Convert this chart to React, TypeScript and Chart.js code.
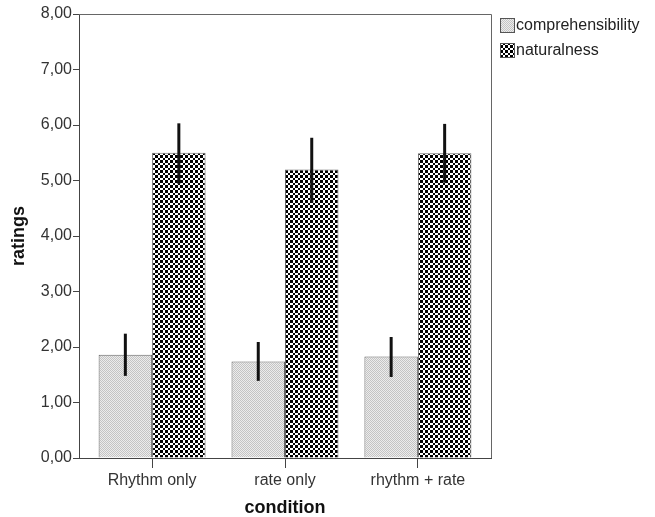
import React, { useEffect, useRef } from 'react';
import { Chart, registerables } from 'chart.js';

Chart.register(...registerables);

const categories = ['Rhythm only', 'rate only', 'rhythm + rate'];
const seriesNames = ['comprehensibility', 'naturalness'];
const comprehensibility = [1.86, 1.74, 1.83];
const comprehensibilityLow = [1.48, 1.39, 1.46];
const comprehensibilityHigh = [2.24, 2.09, 2.18];
const naturalness = [5.5, 5.2, 5.49];
const naturalnessLow = [4.94, 4.6, 4.96];
const naturalnessHigh = [6.03, 5.77, 6.02];
const yTickValues = [0, 1, 2, 3, 4, 5, 6, 7, 8];

const FONT = "'Liberation Sans', Arial, sans-serif";

function makeLightPattern(): CanvasPattern | string {
  const c = document.createElement('canvas');
  c.width = 2;
  c.height = 2;
  const g = c.getContext('2d');
  if (!g) return '#dcdcdc';
  g.fillStyle = '#ececec';
  g.fillRect(0, 0, 2, 2);
  g.fillStyle = '#c4c4c4';
  g.fillRect(0, 0, 1, 1);
  g.fillRect(1, 1, 1, 1);
  const p = g.createPattern(c, 'repeat');
  return p || '#dcdcdc';
}

function makeCheckPattern(): CanvasPattern | string {
  const c = document.createElement('canvas');
  c.width = 10;
  c.height = 10;
  const g = c.getContext('2d');
  if (!g) return '#555';
  g.fillStyle = '#ffffff';
  g.fillRect(0, 0, 10, 10);
  const bounds = [0, 3, 5, 8, 10];
  for (let i = 0; i < 4; i++) {
    for (let j = 0; j < 4; j++) {
      if ((i + j) % 2 === 0) {
        g.fillStyle = '#000000';
        g.fillRect(bounds[i], bounds[j], bounds[i + 1] - bounds[i], bounds[j + 1] - bounds[j]);
      }
    }
  }
  const p = g.createPattern(c, 'repeat');
  return p || '#555';
}

export default function App() {
  const ref = useRef<HTMLCanvasElement | null>(null);

  useEffect(() => {
    if (!ref.current) return;
    const lightPat = makeLightPattern();
    const checkPat = makeCheckPattern();
    const fills = [lightPat, checkPat];
    const lows = [comprehensibilityLow, naturalnessLow];
    const highs = [comprehensibilityHigh, naturalnessHigh];

    const extras = {
      id: 'extras',
      beforeDatasetsDraw(chart: any) {
        const { ctx, chartArea } = chart;
        ctx.save();
        ctx.strokeStyle = '#666';
        ctx.lineWidth = 1;
        ctx.beginPath();
        ctx.moveTo(chartArea.left, chartArea.top + 0.5);
        ctx.lineTo(chartArea.right + 0.5, chartArea.top + 0.5);
        ctx.lineTo(chartArea.right + 0.5, chartArea.bottom);
        ctx.stroke();
        ctx.restore();
      },
      afterDatasetsDraw(chart: any) {
        const { ctx } = chart;
        const y = chart.scales.y;
        ctx.save();
        ctx.strokeStyle = '#111';
        ctx.lineWidth = 3;
        ctx.lineCap = 'butt';
        chart.data.datasets.forEach((_: any, di: number) => {
          const meta = chart.getDatasetMeta(di);
          meta.data.forEach((bar: any, i: number) => {
            ctx.beginPath();
            ctx.moveTo(bar.x, y.getPixelForValue(highs[di][i]));
            ctx.lineTo(bar.x, y.getPixelForValue(lows[di][i]));
            ctx.stroke();
          });
        });
        ctx.restore();
      },
      afterDraw(chart: any) {
        const { ctx } = chart;
        ctx.save();
        ctx.font = `16px ${FONT}`;
        ctx.textBaseline = 'middle';
        ctx.textAlign = 'left';
        seriesNames.forEach((name, i) => {
          const bx = 500;
          const by = 18 + i * 25;
          ctx.fillStyle = fills[i] as any;
          ctx.fillRect(bx, by, 15, 15);
          ctx.strokeStyle = '#555';
          ctx.lineWidth = 1;
          ctx.strokeRect(bx + 0.5, by + 0.5, 14, 14);
          ctx.fillStyle = '#222';
          ctx.fillText(name, bx + 16, by + 8);
        });
        ctx.restore();
      },
    };

    const chart = new Chart(ref.current, {
      type: 'bar',
      data: {
        datasets: [
          {
            label: seriesNames[0],
            data: categories.map((_, i) => ({ x: i, y: comprehensibility[i] })),
            backgroundColor: lightPat as any,
            borderColor: '#666',
            borderWidth: 1,
            barPercentage: 1,
            categoryPercentage: 0.805,
          },
          {
            label: seriesNames[1],
            data: categories.map((_, i) => ({ x: i, y: naturalness[i] })),
            backgroundColor: checkPat as any,
            borderColor: '#666',
            borderWidth: 1,
            barPercentage: 1,
            categoryPercentage: 0.805,
          },
        ],
      },
      options: {
        animation: false,
        responsive: true,
        maintainAspectRatio: false,
        layout: { padding: { top: 14, right: 164, left: 0, bottom: 0 } },
        plugins: {
          legend: { display: false },
          tooltip: { enabled: false },
        },
        scales: {
          x: {
            type: 'linear',
            offset: false,
            min: -0.55,
            max: 2.55,
            afterBuildTicks: (scale: any) => {
              scale.ticks = categories.map((_, i) => ({ value: i }));
            },
            afterFit: (scale: any) => {
              scale.height = 59;
            },
            ticks: {
              callback: (v: any) => categories[Math.round(Number(v))] ?? '',
              color: '#333',
              font: { family: FONT, size: 16 },
              padding: 3,
              maxRotation: 0,
            },
            grid: {
              offset: false,
              drawOnChartArea: false,
              drawTicks: true,
              tickLength: 10,
              color: '#444',
            },
            border: { color: '#444', width: 1 },
            title: {
              display: true,
              text: 'condition',
              color: '#111',
              font: { family: FONT, size: 18, weight: 'bold', lineHeight: 1.0 },
              padding: { top: 0, bottom: 0 },
            },
          },
          y: {
            min: 0,
            max: 8,
            afterBuildTicks: (scale: any) => {
              scale.ticks = yTickValues.map((v) => ({ value: v }));
            },
            afterFit: (scale: any) => {
              scale.width = 79;
            },
            ticks: {
              callback: (v: any) => Number(v).toFixed(2).replace('.', ','),
              color: '#333',
              font: { family: FONT, size: 16 },
              padding: 1,
            },
            grid: {
              drawOnChartArea: false,
              drawTicks: true,
              tickLength: 6,
              color: '#444',
            },
            border: { color: '#444', width: 1 },
            title: {
              display: true,
              text: 'ratings',
              color: '#111',
              font: { family: FONT, size: 18, weight: 'bold' },
              padding: { top: 8, bottom: 0 },
            },
          },
        },
      },
      plugins: [extras],
    } as any);

    return () => chart.destroy();
  }, []);

  return (
    <div style={{ position: 'fixed', left: 0, top: 0, width: 655, height: 517, background: '#fff' }}>
      <canvas ref={ref} />
    </div>
  );
}
